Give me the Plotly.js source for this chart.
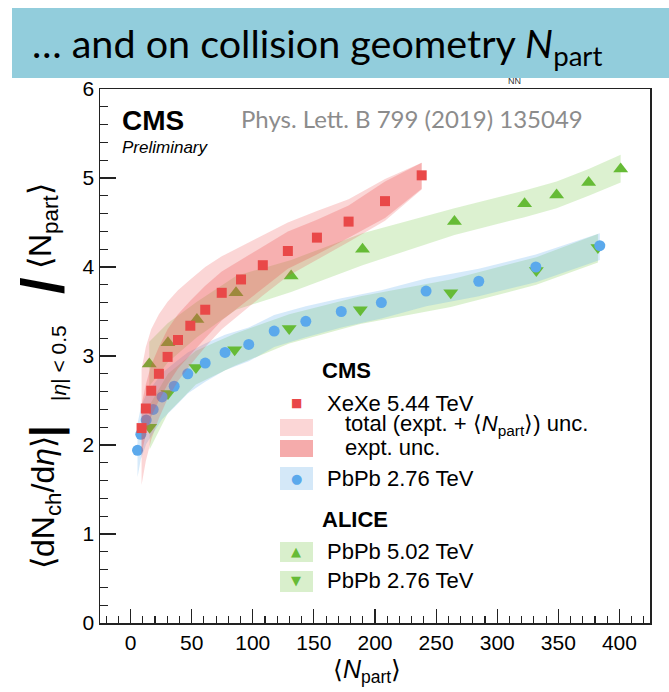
<!DOCTYPE html>
<html><head><meta charset="utf-8">
<script src="https://cdn.plot.ly/plotly-3.0.1.min.js"></script>
<style>body{margin:0;background:#fff}#c{width:669px;height:692px}</style>
</head><body><div id="c"></div>
<script>
// ---- data ----
const xeN   = [9.0,12.5,16.9,23.2,30.3,38.8,48.9,61.1,74.6,90.4,108.2,128.7,152.5,178.4,208.2,238.2];
const xeY   = [2.19,2.41,2.61,2.80,2.99,3.18,3.34,3.52,3.71,3.86,4.02,4.18,4.33,4.51,4.74,5.03];
const xeTotHi = [2.85,3.10,3.30,3.47,3.61,3.74,3.86,4.00,4.12,4.23,4.36,4.50,4.63,4.76,4.99,5.17];
const xeTotLo = [1.55,1.82,2.06,2.30,2.52,2.72,2.90,3.10,3.30,3.48,3.68,3.90,4.08,4.28,4.52,4.87];
const xeExpHi = [2.45,2.68,2.90,3.10,3.30,3.47,3.62,3.79,3.95,4.08,4.23,4.40,4.53,4.69,4.96,5.17];
const xeExpLo = [1.90,2.12,2.32,2.50,2.68,2.86,3.02,3.20,3.40,3.56,3.76,3.98,4.14,4.33,4.55,4.88];

const cmsPbN  = [5.7,8.4,12.8,18.5,25.8,35.7,46.8,61.1,77.3,96.7,117.5,143.4,172.4,205.2,241.8,284.9,331.6,383.9];
const cmsPbY  = [1.94,2.12,2.28,2.40,2.54,2.66,2.80,2.92,3.04,3.13,3.28,3.39,3.50,3.60,3.73,3.84,4.00,4.24];
const cmsPbHi = [2.24,2.42,2.57,2.68,2.81,2.92,3.04,3.14,3.24,3.32,3.46,3.56,3.65,3.74,3.87,3.98,4.14,4.38];
const cmsPbLo = [1.64,1.84,2.01,2.14,2.29,2.42,2.58,2.71,2.84,2.94,3.10,3.21,3.32,3.42,3.56,3.67,3.83,4.08];

const al276N  = [15.6,30.6,53.5,85.2,129.8,188.0,262.0,332.0,382.4];
const al276Y  = [2.20,2.58,2.87,3.07,3.31,3.52,3.71,3.96,4.22];
const al276Hi = [2.45,2.80,3.06,3.25,3.47,3.67,3.86,4.11,4.37];
const al276Lo = [1.95,2.36,2.68,2.89,3.14,3.36,3.55,3.80,4.05];

const al502N  = [15.3,30.6,54.3,86.3,131.4,189.8,265.0,322.4,348.6,374.8,401.0];
const al502Y  = [2.91,3.15,3.41,3.71,3.90,4.20,4.51,4.71,4.81,4.95,5.10];
const al502Hi = [3.16,3.37,3.61,3.90,4.08,4.38,4.66,4.86,4.96,5.10,5.26];
const al502Lo = [2.66,2.93,3.21,3.52,3.72,4.02,4.36,4.56,4.66,4.80,4.95];

const xTicks = [0,50,100,150,200,250,300,350,400];
const yTicks = [0,1,2,3,4,5,6];

// ---- helpers ----
function band(x, lo, hi, color){
  return {x: x.concat(x.slice().reverse()), y: hi.concat(lo.slice().reverse()),
    type:'scatter', mode:'lines', fill:'toself', fillcolor:color, line:{width:0},
    hoverinfo:'skip', showlegend:false};
}
function pts(x, y, sym, size, color){
  return {x:x, y:y, type:'scatter', mode:'markers', showlegend:false,
    marker:{symbol:sym, size:size, color:color, line:{width:0}}};
}
const RED='#e94848', BLUE='#5ba9ec', GREEN='#66bb36';
const traces = [
  band(al502N, al502Lo, al502Hi, 'rgba(110,195,60,0.24)'),
  band(al276N, al276Lo, al276Hi, 'rgba(110,195,60,0.24)'),
  band(cmsPbN, cmsPbLo, cmsPbHi, 'rgba(90,170,235,0.25)'),
  pts(al502N, al502Y, 'triangle-up', 13, GREEN),
  pts(al276N, al276Y, 'triangle-down', 13, GREEN),
  pts(cmsPbN, cmsPbY, 'circle', 11, BLUE),
  band(xeN, xeTotLo, xeTotHi, 'rgba(235,70,70,0.22)'),
  band(xeN, xeExpLo, xeExpHi, 'rgba(235,70,70,0.26)'),
  pts(xeN, xeY, 'square', 10, RED)
];

// pixel -> paper
const L=100, R=650, T=89, B=623;
const X = p => (p-L)/(R-L);
const Y = p => (B-p)/(B-T);

const FONT = 'Liberation Sans, Arial, sans-serif';
const ann = [];
function txt(t, px, py, size, opts){
  ann.push(Object.assign({text:t, xref:'paper', yref:'paper', x:X(px), y:Y(py),
    xanchor:'left', yanchor:'middle', showarrow:false,
    font:{family:FONT, size:size, color:'#000'}}, opts||{}));
}
// banner
txt('… and on collision geometry <i>N</i><sub>part</sub>', 30, 45, 39.5, {font:{family:'Lato, sans-serif', size:39.5, color:'#000'}});
txt('NN', 506, 81, 9, {font:{family:FONT, size:9, color:'#333'}});
// CMS label
txt('<b>CMS</b>', 120, 120, 28);
txt('<i>Preliminary</i>', 120, 147, 17);
txt('Phys. Lett. B 799 (2019) 135049', 239, 118, 24, {font:{family:'Lato, sans-serif', size:24, color:'#8c8c8c'}});
// legend
txt('<b>CMS</b>', 320, 370, 22);
txt('XeXe 5.44 TeV', 325, 403, 22);
txt('total (expt. + ⟨<i>N</i><sub>part</sub>⟩) unc.', 343, 425, 22);
txt('expt. unc.', 343, 447, 22);
txt('PbPb 2.76 TeV', 325, 478, 22);
txt('<b>ALICE</b>', 320, 519, 22);
txt('PbPb 5.02 TeV', 325, 551, 22);
txt('PbPb 2.76 TeV', 325, 580, 22);
// legend marker glyphs
txt('■', 296, 403, 12, {xanchor:'center', font:{family:'DejaVu Sans', size:12, color:RED}});
txt('●', 296, 478, 13, {xanchor:'center', font:{family:'DejaVu Sans', size:13, color:BLUE}});
txt('▲', 296, 551, 13, {xanchor:'center', font:{family:'DejaVu Sans', size:13, color:GREEN}});
txt('▼', 296, 580, 13, {xanchor:'center', font:{family:'DejaVu Sans', size:13, color:GREEN}});
// axis titles
txt('⟨<i>N</i><sub>part</sub>⟩', 367, 671, 25, {xanchor:'center'});
// y title in pieces (rotated)
const rot = {xanchor:'center', textangle:-90};
txt('⟨dN<sub>ch</sub>/d<i>η</i>⟩', 45, 503, 32, rot);
txt('<b>|</b>', 46, 431, 42, rot);
txt('|<i>η</i>| &lt; 0.5', 59, 363, 21, rot);
txt('<b>/</b>', 42, 286, 60, rot);
txt('⟨N<sub>part</sub>⟩', 43, 226, 32, rot);

const shapes = [
  {type:'rect', xref:'paper', yref:'paper', x0:X(12), x1:X(669), y0:Y(78), y1:Y(8), fillcolor:'#92cddc', line:{width:0}, layer:'below'},
  {type:'rect', xref:'paper', yref:'paper', x0:X(280), x1:X(313), y0:Y(436), y1:Y(419), fillcolor:'#fbd6d6', line:{width:0}},
  {type:'rect', xref:'paper', yref:'paper', x0:X(280), x1:X(313), y0:Y(457), y1:Y(440), fillcolor:'#f5abab', line:{width:0}},
  {type:'rect', xref:'paper', yref:'paper', x0:X(280), x1:X(313), y0:Y(490), y1:Y(467), fillcolor:'#d4e8f8', line:{width:0}},
  {type:'rect', xref:'paper', yref:'paper', x0:X(280), x1:X(313), y0:Y(562), y1:Y(542), fillcolor:'#d9efcc', line:{width:0}},
  {type:'rect', xref:'paper', yref:'paper', x0:X(280), x1:X(313), y0:Y(592), y1:Y(571), fillcolor:'#d9efcc', line:{width:0}}
];

const layout = {
  width:669, height:692, margin:{l:L, r:669-R, t:T, b:692-B},
  paper_bgcolor:'#fff', plot_bgcolor:'#fff', showlegend:false,
  xaxis:{range:[-25,425], tickvals:xTicks, ticktext:xTicks.map(String), ticks:'inside', ticklen:14, tickwidth:1.2, tickcolor:'#222',
    minor:{dtick:10, ticks:'inside', ticklen:7, tickwidth:1.2, tickcolor:'#222'},
    showline:true, mirror:true, linecolor:'#222', linewidth:1.5, showgrid:false, zeroline:false,
    tickfont:{family:FONT, size:21, color:'#000'}},
  yaxis:{range:[0,6], tickvals:yTicks, ticktext:yTicks.map(String), ticks:'inside', ticklen:16, tickwidth:1.2, tickcolor:'#222',
    minor:{dtick:0.2, ticks:'inside', ticklen:8, tickwidth:1.2, tickcolor:'#222'},
    showline:true, mirror:true, linecolor:'#222', linewidth:1.5, showgrid:false, zeroline:false,
    tickfont:{family:FONT, size:21, color:'#000'}},
  annotations:ann, shapes:shapes
};
Plotly.newPlot('c', traces, layout, {staticPlot:true, displayModeBar:false});
</script></body></html>
